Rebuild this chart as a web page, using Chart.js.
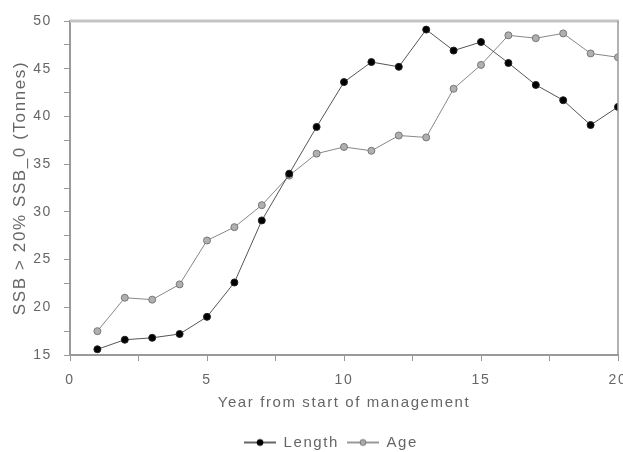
<!DOCTYPE html>
<html lang="en">

<head>
    <meta charset="UTF-8">
    <title>SSB by year</title>
    <style>
        html, body { margin: 0; padding: 0; background: #fff; }
        .wrapper { width: 623px; height: 452px; position: relative; }
    </style>
</head>

<body>
    <div class="wrapper">
        <canvas id="chart" width="623" height="452"></canvas>
    </div>
    <script src="https://cdn.jsdelivr.net/npm/chart.js"></script>
    <script>
        const years = [1, 2, 3, 4, 5, 6, 7, 8, 9, 10, 11, 12, 13, 14, 15, 16, 17, 18, 19, 20];
        const lengthValues = [15.6, 16.6, 16.8, 17.2, 19.0, 22.6, 29.1, 34.0, 38.9, 43.6, 45.7, 45.2, 49.1, 46.9, 47.8, 45.6, 43.3, 41.7, 39.1, 41.0];
        const ageValues = [17.5, 21.0, 20.8, 22.4, 27.0, 28.4, 30.7, 33.8, 36.1, 36.8, 36.4, 38.0, 37.8, 42.9, 45.4, 48.5, 48.2, 48.7, 46.6, 46.2];

        const textColor = "#666";
        const family = "'Liberation Sans', Arial, sans-serif";
        const tickFont = { family: family, size: 14 };
        const titleFont = { family: family, size: 15 };

        // small line+dot swatch for the legend
        function swatch(line, fill, stroke) {
            const c = document.createElement("canvas");
            c.width = 32; c.height = 10;
            const g = c.getContext("2d");
            g.strokeStyle = line; g.lineWidth = 1.5;
            g.beginPath(); g.moveTo(0, 5); g.lineTo(32, 5); g.stroke();
            g.fillStyle = fill; g.strokeStyle = stroke; g.lineWidth = 1;
            g.beginPath(); g.arc(16, 5, 3, 0, Math.PI * 2); g.fill(); g.stroke();
            return c;
        }
        const swatches = [swatch("#333", "#000", "#000"), swatch("#777", "#aaa", "#777")];

        // the original text is rather loosely spaced
        const spacingPlugin = {
            id: "spacing",
            beforeLayout(chart) { chart.ctx.letterSpacing = "1.6px"; },
            afterLayout(chart) {
                // legend sits a little right of centre in the original
                chart.legend.left += 20;
                chart.legend.right += 20;
            },
            beforeDraw(chart) { chart.ctx.letterSpacing = "1.6px"; }
        };

        const framePlugin = {
            id: "frame",
            afterDraw(chart) {
                const a = chart.chartArea, g = chart.ctx;
                g.save();
                g.strokeStyle = "#c4c4c4"; g.lineWidth = 3;
                g.beginPath(); g.moveTo(a.left, a.top); g.lineTo(a.right + 1, a.top); g.stroke();
                g.strokeStyle = "#999"; g.lineWidth = 1.5;
                g.beginPath(); g.moveTo(a.right, a.top); g.lineTo(a.right, a.bottom); g.stroke();
                g.restore();
            }
        };

        const ctx = document.getElementById("chart");

        const chart = new Chart(ctx, {
            type: "line",
            data: {
                labels: years,
                datasets: [{
                    label: "Length",
                    data: years.map((x, i) => ({ x: x, y: lengthValues[i] })),
                    borderColor: "#555",
                    borderWidth: 1,
                    backgroundColor: "#000",
                    pointBackgroundColor: "#000",
                    pointBorderColor: "#222",
                    pointRadius: 3.5,
                    tension: 0
                }, {
                    label: "Age",
                    data: years.map((x, i) => ({ x: x, y: ageValues[i] })),
                    borderColor: "#888",
                    borderWidth: 1,
                    backgroundColor: "#aaa",
                    pointBackgroundColor: "#b0b0b0",
                    pointBorderColor: "#777",
                    pointRadius: 3.5,
                    tension: 0
                }]
            },
            options: {
                responsive: false,
                animation: false,
                layout: { padding: { left: 4, right: 5, top: 21, bottom: -8 } },
                plugins: {
                    tooltip: { enabled: false },
                    legend: {
                        position: "bottom",
                        labels: {
                            color: textColor,
                            font: titleFont,
                            usePointStyle: true,
                            pointStyleWidth: 32,
                            padding: 8,
                            generateLabels(chart) {
                                return chart.data.datasets.map((ds, i) => ({
                                    text: ds.label,
                                    pointStyle: swatches[i],
                                    fontColor: textColor,
                                    datasetIndex: i,
                                    lineWidth: 0
                                }));
                            }
                        }
                    }
                },
                scales: {
                    x: {
                        type: "linear",
                        min: 0,
                        max: 20,
                        ticks: {
                            stepSize: 2.5,
                            color: textColor,
                            font: tickFont,
                            maxRotation: 0,
                            padding: 11,
                            callback: v => (v % 5 === 0 ? v : "")
                        },
                        grid: { drawOnChartArea: false, drawTicks: true, tickLength: 6, color: "#999" },
                        border: { color: "#999", width: 2 },
                        title: { display: true, text: "Year from start of management", color: textColor, font: titleFont, padding: { top: 0, bottom: 15 } },
                        afterFit(scale) {
                            scale.paddingRight = 0;
                            scale.paddingLeft = 0;
                            scale.height = 72;
                        }
                    },
                    y: {
                        min: 15,
                        max: 50,
                        ticks: {
                            stepSize: 2.5,
                            color: textColor,
                            font: tickFont,
                            padding: 12,
                            callback: v => (v % 5 === 0 ? v : "")
                        },
                        grid: { drawOnChartArea: false, drawTicks: true, tickLength: 6, color: "#999" },
                        border: { color: "#999", width: 2 },
                        title: { display: true, text: "SSB > 20% SSB_0 (Tonnes)", color: textColor, font: { family: family, size: 17 }, padding: { top: 6, bottom: 0 } },
                        afterFit(scale) {
                            scale.width = 66;
                        }
                    }
                }
            },
            plugins: [spacingPlugin, framePlugin]
        });
    </script>
</body>

</html>
